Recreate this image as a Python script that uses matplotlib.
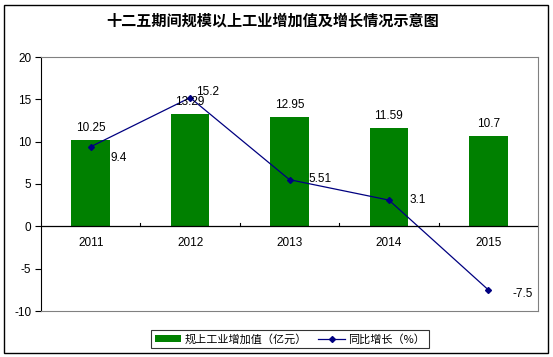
import matplotlib.pyplot as plt
from matplotlib.patches import Rectangle

plt.rcParams['font.family'] = ['Liberation Sans', 'Noto Sans CJK SC', 'DejaVu Sans']
plt.rcParams['axes.unicode_minus'] = False

years = ["2011", "2012", "2013", "2014", "2015"]
added_value = [10.25, 13.29, 12.95, 11.59, 10.7]
growth = [9.4, 15.2, 5.51, 3.1, -7.5]

fig = plt.figure(figsize=(5.53, 3.57), dpi=100)
ax = fig.add_axes([41 / 553, 1 - 311 / 357, 497 / 553, 254 / 357])

x = range(len(years))
bars = ax.bar(x, added_value, width=0.39, color="#008000", zorder=2)
line, = ax.plot(x, growth, color="#000080", lw=0.9, marker="D", ms=3, zorder=3)

for i, v in enumerate(added_value):
    ax.text(i, v + 1.4, str(v), ha="center", va="center", fontsize=8.5)
# label offsets for the growth line (x in categories, y in data units)
offsets = [(0.2, -1.3), (0.06, 0.7), (0.19, 0.1), (0.21, 0.0), (0.24, -0.5)]
for i, v in enumerate(growth):
    dx, dy = offsets[i]
    ax.text(i + dx, v + dy, str(v), ha="left", va="center", fontsize=8.5)

ax.set_xlim(-0.5, 4.5)
ax.set_ylim(-10, 20)
ax.set_yticks(range(-10, 21, 5))
ax.tick_params(axis="y", labelsize=8.5, length=4, direction="out", width=0.8, pad=3)
ax.set_xticks([])
for i, y in enumerate(years):
    ax.text(i, -2.0, y, ha="center", va="center", fontsize=8.5)
ax.axhline(0, color="black", lw=0.9, zorder=4)
for b in [0.5, 1.5, 2.5, 3.5]:
    ax.plot([b, b], [0, 0.4], color="black", lw=0.8, zorder=4)

ax.spines["left"].set_color("black")
ax.spines["left"].set_linewidth(0.8)
for s in ["top", "right", "bottom"]:
    ax.spines[s].set_color("#808080")
    ax.spines[s].set_linewidth(0.8)

fig.text(273 / 553, 1 - 20 / 357, "十二五期间规模以上工业增加值及增长情况示意图",
         ha="center", va="center", fontsize=10.9, fontweight="bold", family=["Noto Sans CJK SC"])

leg = fig.legend([bars, line], ["规上工业增加值（亿元）", "同比增长（%）"],
                 loc="center", bbox_to_anchor=(290 / 553, 1 - 339 / 357), ncol=2,
                 frameon=True, fancybox=False, edgecolor="black",
                 handlelength=2.4, handleheight=0.6, handletextpad=0.3, columnspacing=1.0,
                 borderpad=0.3, borderaxespad=0,
                 prop={"family": ["Noto Sans CJK SC"], "size": 8})
leg.get_frame().set_linewidth(0.8)

fig.patches.append(Rectangle((4 / 553, 4 / 357), 544 / 553, 348 / 357, transform=fig.transFigure,
                             fill=False, edgecolor="black", lw=1))

fig.savefig("out.png", dpi=100)
